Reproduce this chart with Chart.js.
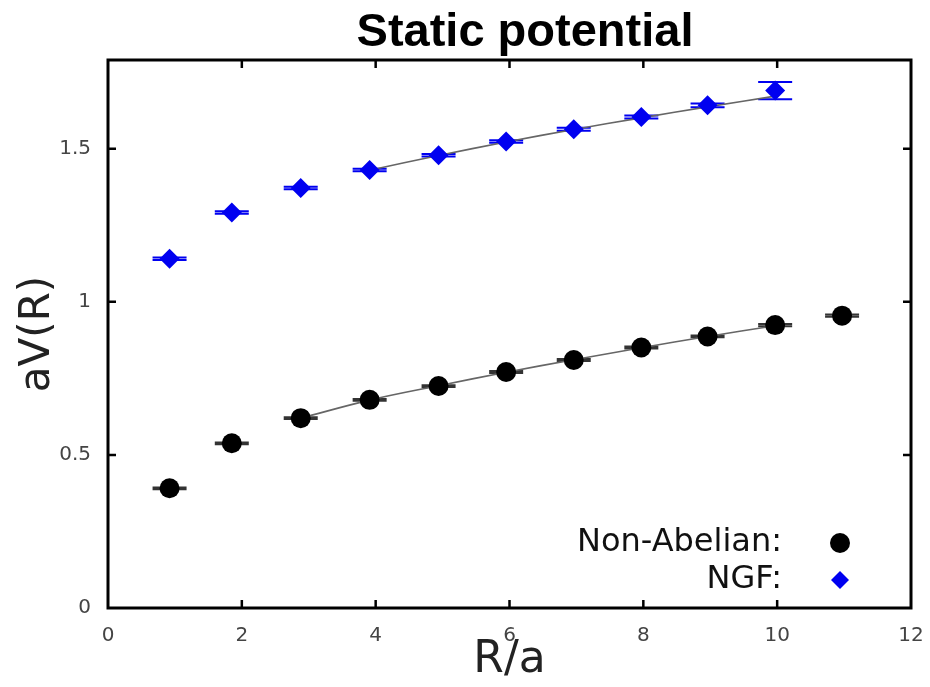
<!DOCTYPE html>
<html>
<head>
<meta charset="utf-8">
<script src="https://cdn.jsdelivr.net/npm/chart.js@4/dist/chart.umd.min.js"></script>
<style>
  body { margin: 0; background: #fff; }
  #wrap { width: 930px; height: 687px; }
</style>
</head>
<body>
<div id="wrap"><canvas id="potCanvas" width="930" height="687"></canvas></div>
<script>
// values
const xTicks = [0, 2, 4, 6, 8, 10, 12];
const yTicks = [0, 0.5, 1, 1.5];

const rNonAbelian = [0.92, 1.85, 2.88, 3.91, 4.94, 5.95, 6.96, 7.97, 8.96, 9.97, 10.97];
const vNonAbelian = [0.391, 0.538, 0.620, 0.680, 0.725, 0.771, 0.810, 0.851, 0.887, 0.924, 0.955];
const errNonAbelian = [0.003, 0.003, 0.003, 0.003, 0.003, 0.003, 0.003, 0.003, 0.003, 0.004, 0.004];

const rNGF = [0.92, 1.85, 2.88, 3.91, 4.94, 5.95, 6.96, 7.97, 8.96, 9.97];
const vNGF = [1.141, 1.292, 1.372, 1.431, 1.479, 1.524, 1.564, 1.604, 1.642, 1.690];
const errNGF = [0.004, 0.004, 0.004, 0.004, 0.004, 0.004, 0.005, 0.005, 0.006, 0.028];

// fit curves
const fitNonAbelianR = [2.88, 3.91, 4.94, 5.95, 6.96, 7.97, 8.96, 9.97];
const fitNonAbelianV = [0.620, 0.679, 0.726, 0.770, 0.811, 0.850, 0.887, 0.922];
const fitNGFR = [3.91, 4.94, 5.95, 6.96, 7.97, 8.96, 9.97];
const fitNGFV = [1.430, 1.478, 1.522, 1.563, 1.601, 1.637, 1.672];

const pts = (xs, ys) => xs.map((x, i) => ({ x: x, y: ys[i] }));

const blue = 'rgb(0, 0, 240)';
const textFont = '"DejaVu Sans", sans-serif';

const errorBars = {
  id: 'errorBars',
  beforeDatasetsDraw(chart) {
    const ctx = chart.ctx;
    const xs = chart.scales.x, ys = chart.scales.y;
    const sets = [
      [rNonAbelian, vNonAbelian, errNonAbelian, '#333'],
      [rNGF, vNGF, errNGF, blue]
    ];
    ctx.save();
    ctx.lineWidth = 2;
    sets.forEach(([r, v, e, col]) => {
      ctx.strokeStyle = col;
      r.forEach((x, i) => {
        const px = xs.getPixelForValue(x);
        const top = ys.getPixelForValue(v[i] + e[i]);
        const bot = ys.getPixelForValue(v[i] - e[i]);
        ctx.beginPath();
        ctx.moveTo(px, top); ctx.lineTo(px, bot);
        ctx.moveTo(px - 17, top); ctx.lineTo(px + 17, top);
        ctx.moveTo(px - 17, bot); ctx.lineTo(px + 17, bot);
        ctx.stroke();
      });
    });
    ctx.restore();
  }
};

const frame = {
  id: 'frame',
  afterDraw(chart) {
    const ctx = chart.ctx;
    const a = chart.chartArea;
    const xs = chart.scales.x, ys = chart.scales.y;
    ctx.save();
    ctx.strokeStyle = '#000';
    ctx.lineWidth = 3;
    ctx.strokeRect(a.left, a.top, a.right - a.left, a.bottom - a.top);
    ctx.lineWidth = 2.5;
    ctx.beginPath();
    xTicks.slice(1, -1).forEach(v => {
      const px = xs.getPixelForValue(v);
      ctx.moveTo(px, a.bottom); ctx.lineTo(px, a.bottom - 8);
      ctx.moveTo(px, a.top); ctx.lineTo(px, a.top + 8);
    });
    yTicks.slice(1).forEach(v => {
      const py = ys.getPixelForValue(v);
      ctx.moveTo(a.left, py); ctx.lineTo(a.left + 8, py);
      ctx.moveTo(a.right, py); ctx.lineTo(a.right - 8, py);
    });
    ctx.stroke();

    // title
    ctx.fillStyle = '#000';
    ctx.font = 'bold 47px "Liberation Sans", Arial, sans-serif';
    ctx.textAlign = 'center';
    ctx.textBaseline = 'alphabetic';
    ctx.fillText('Static potential', 525, 46);

    // legend, inside the lower right corner
    const items = [
      [chart.data.datasets[0], 543],
      [chart.data.datasets[1], 580]
    ];
    ctx.font = '32px ' + textFont;
    ctx.textAlign = 'right';
    ctx.textBaseline = 'middle';
    items.forEach(([ds, y]) => {
      ctx.fillStyle = '#111';
      ctx.fillText(ds.label + ':', 782, y);
      ctx.fillStyle = ds.backgroundColor;
      ctx.strokeStyle = ds.backgroundColor;
      Chart.helpers.drawPoint(ctx, { pointStyle: ds.pointStyle, radius: ds.pointStyle === 'circle' ? 10 : 9, borderWidth: 0 }, 840, y);
    });
    ctx.restore();
  }
};

new Chart(document.getElementById('potCanvas'), {
  type: 'scatter',
  data: {
    datasets: [
      {
        label: 'Non-Abelian',
        data: pts(rNonAbelian, vNonAbelian),
        backgroundColor: '#000',
        borderColor: '#000',
        pointStyle: 'circle',
        pointRadius: 10,
        borderWidth: 0,
        order: 1
      },
      {
        label: 'NGF',
        data: pts(rNGF, vNGF),
        backgroundColor: blue,
        borderColor: blue,
        pointStyle: 'rectRot',
        pointRadius: 10,
        borderWidth: 0,
        order: 1
      },
      {
        label: 'fit1',
        data: pts(fitNonAbelianR, fitNonAbelianV),
        showLine: true,
        pointRadius: 0,
        borderColor: '#666',
        borderWidth: 1.6,
        tension: 0.4,
        order: 2
      },
      {
        label: 'fit2',
        data: pts(fitNGFR, fitNGFV),
        showLine: true,
        pointRadius: 0,
        borderColor: '#666',
        borderWidth: 1.6,
        tension: 0.4,
        order: 2
      }
    ]
  },
  options: {
    responsive: false,
    animation: false,
    layout: { padding: { top: 60, right: 19, left: 0, bottom: 0 } },
    plugins: {
      legend: { display: false },
      title: { display: false },
      tooltip: { enabled: false }
    },
    scales: {
      x: {
        type: 'linear',
        min: 0,
        max: 12,
        afterFit: s => { s.height = 79; s.paddingLeft = 0; s.paddingRight = 0; },
        afterBuildTicks: s => { s.ticks = xTicks.map(v => ({ value: v })); },
        grid: { display: false, drawTicks: false },
        border: { display: false },
        ticks: {
          padding: 16,
          color: '#444',
          font: { family: textFont, size: 20 },
          callback: v => String(v)
        },
        title: {
          display: true,
          text: 'R/a',
          color: '#222',
          font: { family: textFont, size: 44 },
          padding: { top: 0, bottom: 0 }
        }
      },
      y: {
        type: 'linear',
        min: 0,
        max: 1.79,
        afterFit: s => { s.width = 108; s.paddingTop = 0; s.paddingBottom = 0; },
        afterBuildTicks: s => { s.ticks = yTicks.map(v => ({ value: v })); },
        grid: { display: false, drawTicks: false },
        border: { display: false },
        ticks: {
          padding: 17,
          color: '#444',
          font: { family: textFont, size: 20 },
          callback: v => String(v)
        },
        title: {
          display: true,
          text: 'aV(R)',
          color: '#222',
          font: { family: textFont, size: 42 },
          padding: { top: 13, bottom: 0 }
        }
      }
    }
  },
  plugins: [errorBars, frame]
});
</script>
</body>
</html>
